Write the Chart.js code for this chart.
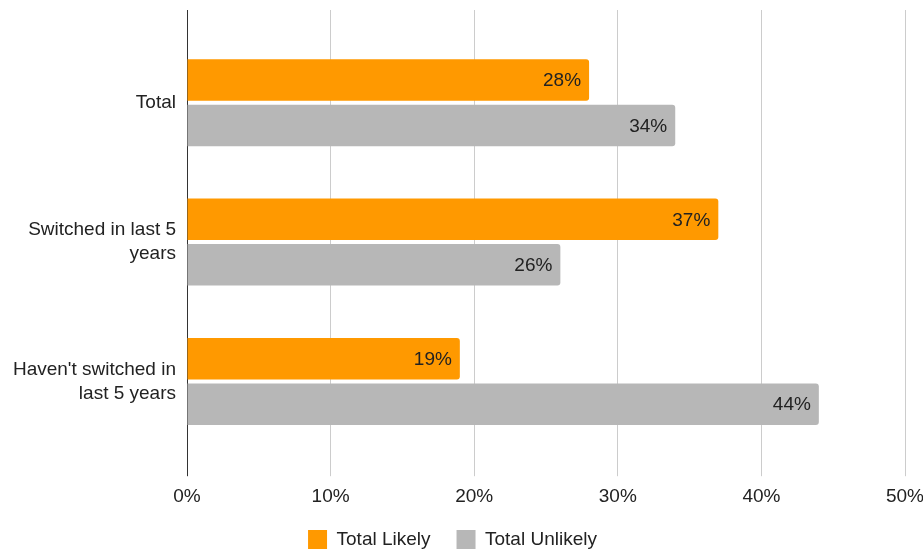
<!DOCTYPE html>
<html>
<head>
<meta charset="utf-8">
<script src="https://cdn.jsdelivr.net/npm/chart.js@4/dist/chart.umd.min.js"></script>
<style>
  html, body { margin: 0; padding: 0; background: #fff; }
  #wrap { width: 923px; height: 551px; position: relative; }
</style>
</head>
<body>
<div id="wrap"><canvas id="chart"></canvas></div>
<script>
// DATA
const categories = [
  ["Total"],
  ["Switched in last 5", "years"],
  ["Haven't switched in", "last 5 years"]
];
const totalLikely = [28, 37, 19];
const totalUnlikely = [34, 26, 44];
const xTicks = [0, 10, 20, 30, 40, 50];

const FONT = "'Liberation Sans', Arial, sans-serif";
const TEXT = "#222222";

// value labels drawn at the end of each bar
const barLabels = {
  id: "barLabels",
  afterDatasetsDraw(chart) {
    const ctx = chart.ctx;
    ctx.save();
    ctx.font = "19px " + FONT;
    ctx.fillStyle = TEXT;
    ctx.textAlign = "right";
    ctx.textBaseline = "middle";
    chart.data.datasets.forEach((ds, i) => {
      chart.getDatasetMeta(i).data.forEach((bar, j) => {
        ctx.fillText(ds.data[j] + "%", bar.x - 8, bar.y + 1);
      });
    });
    ctx.restore();
  }
};

const gridColor = (c) => (c.tick && c.tick.value === 0 ? "#333333" : "#cccccc");

new Chart(document.getElementById("chart"), {
  type: "bar",
  data: {
    labels: categories,
    datasets: [
      { label: "Total Likely", data: totalLikely, backgroundColor: "#ff9900", borderRadius: 3,
        categoryPercentage: 0.653, barPercentage: 0.912 },
      { label: "Total Unlikely", data: totalUnlikely, backgroundColor: "#b7b7b7", borderRadius: 3,
        categoryPercentage: 0.653, barPercentage: 0.912 }
    ]
  },
  options: {
    indexAxis: "y",
    responsive: true,
    maintainAspectRatio: false,
    animation: false,
    layout: { padding: { top: 10, right: 18, left: 0, bottom: -8 } },
    scales: {
      x: {
        min: 0, max: 50,
        afterBuildTicks: (s) => { s.ticks = xTicks.map((v) => ({ value: v })); },
        // legend padding is wider than its vertical room, so pull the axis box down into it
        afterFit: (s) => { s.paddingRight = 0; s.paddingLeft = 0; s.height -= 13; },
        grid: { color: gridColor, tickColor: gridColor, tickLength: 25, lineWidth: 1 },
        border: { display: false },
        ticks: { callback: (v) => v + "%", color: TEXT, font: { family: FONT, size: 19 }, padding: 9 }
      },
      xTop: {
        type: "linear", position: "top", axis: "x",
        min: 0, max: 50,
        afterBuildTicks: (s) => { s.ticks = xTicks.map((v) => ({ value: v })); },
        afterFit: (s) => { s.paddingRight = 0; s.paddingLeft = 0; },
        grid: { drawOnChartArea: false, tickColor: gridColor, tickLength: 23 },
        border: { display: false },
        ticks: { display: false }
      },
      y: {
        grid: { display: false, drawTicks: false },
        border: { display: false },
        afterFit: (s) => { s.width = 187; s.paddingTop = 0; s.paddingBottom = 0; },
        ticks: { color: TEXT, font: { family: FONT, size: 19, lineHeight: 1.25 }, padding: 11 }
      }
    },
    plugins: {
      legend: {
        position: "bottom",
        labels: { boxWidth: 19, boxHeight: 19, padding: 26, color: TEXT, font: { family: FONT, size: 19 } }
      },
      tooltip: { enabled: false }
    }
  },
  plugins: [barLabels]
});
</script>
</body>
</html>
